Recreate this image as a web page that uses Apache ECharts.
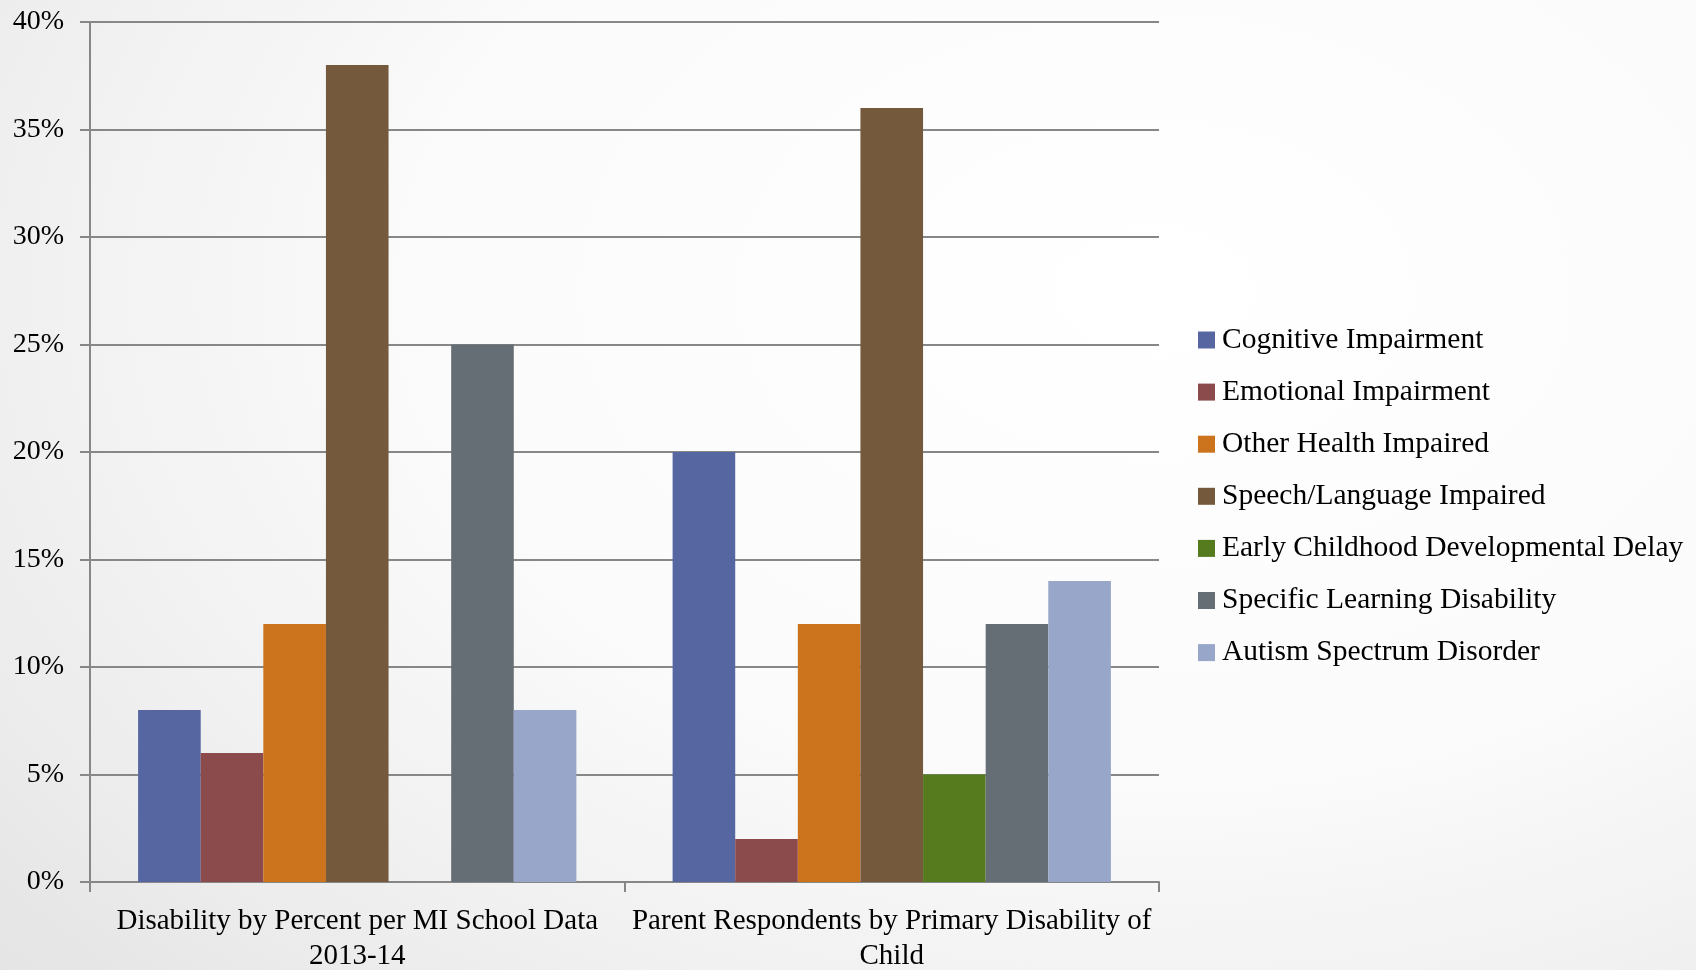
<!DOCTYPE html>
<html>
<head>
<meta charset="utf-8">
<title>Disability by Percent</title>
<script src="https://cdn.jsdelivr.net/npm/echarts@6/dist/echarts.min.js"></script>
<style>
  html, body { margin: 0; padding: 0; width: 1696px; height: 970px; overflow: hidden; }
  body { background: radial-gradient(ellipse 95% 110% at 68% 30%, #ffffff 0%, #fbfbfb 45%, #ececec 80%, #e2e2e2 100%); }
  #chart { width: 1696px; height: 970px; }
</style>
</head>
<body>
<div id="chart"></div>
<script>
// Groups along the x axis
const categories = [
  'Disability by Percent per MI School Data\n2013-14',
  'Parent Respondents by Primary Disability of\nChild'
];

// Percent of students in each disability category, per group
const cognitiveImpairment   = [8, 20];
const emotionalImpairment   = [6, 2];
const otherHealthImpaired   = [12, 12];
const speechLanguage        = [38, 36];
const earlyChildhoodDelay   = [null, 5];
const specificLearning      = [25, 12];
const autismSpectrum        = [8, 14];

const seriesNames = [
  'Cognitive Impairment',
  'Emotional Impairment',
  'Other Health Impaired',
  'Speech/Language Impaired',
  'Early Childhood Developmental Delay',
  'Specific Learning Disability',
  'Autism Spectrum Disorder'
];
const seriesData = [
  cognitiveImpairment, emotionalImpairment, otherHealthImpaired,
  speechLanguage, earlyChildhoodDelay, specificLearning, autismSpectrum
];
const seriesColors = ['#5566a0', '#8b4a4b', '#cc731d', '#74593c', '#567a1e', '#666e75', '#98a6c9'];

// Value axis ticks (percent)
const yMin = 0, yMax = 40, yStep = 5;

const font = '"Liberation Serif", "DejaVu Serif", serif';
const axisGrey = '#878787';

const chart = echarts.init(document.getElementById('chart'), null, { renderer: 'canvas' });

chart.setOption({
  backgroundColor: 'transparent',
  animation: false,
  color: seriesColors,
  textStyle: { fontFamily: font, color: '#000' },
  grid: {
    left: 90, right: 537, top: 22, bottom: 88,
    containLabel: false, outerBoundsMode: 'none'
  },
  legend: {
    orient: 'vertical',
    left: 1193,
    top: 320,
    itemWidth: 17,
    itemHeight: 17,
    itemGap: 22.1,
    icon: 'rect',
    selectedMode: false,
    textStyle: { fontFamily: font, fontSize: 29.5, color: '#000', lineHeight: 28, padding: [0, 0, 0, 2] },
    data: seriesNames
  },
  xAxis: {
    type: 'category',
    data: categories,
    axisLine: { lineStyle: { color: axisGrey, width: 2 } },
    axisTick: { show: true, length: 10, lineStyle: { color: axisGrey, width: 2 } },
    axisLabel: {
      fontFamily: font, fontSize: 29, color: '#000',
      lineHeight: 35, margin: 22, interval: 0, align: 'center'
    },
    splitLine: { show: false }
  },
  yAxis: {
    type: 'value',
    min: yMin, max: yMax, interval: yStep,
    axisLine: { show: true, lineStyle: { color: axisGrey, width: 2 } },
    axisTick: { show: true, length: 10, lineStyle: { color: axisGrey, width: 2 } },
    axisLabel: { fontFamily: font, fontSize: 28, color: '#000', margin: 26, formatter: '{value}%' },
    splitLine: { show: true, lineStyle: { color: axisGrey, width: 2 } }
  },
  series: seriesNames.map((name, i) => ({
    name,
    type: 'bar',
    data: seriesData[i],
    barGap: '0%',
    barCategoryGap: '18%',
    itemStyle: { color: seriesColors[i] }
  }))
});
</script>
</body>
</html>
